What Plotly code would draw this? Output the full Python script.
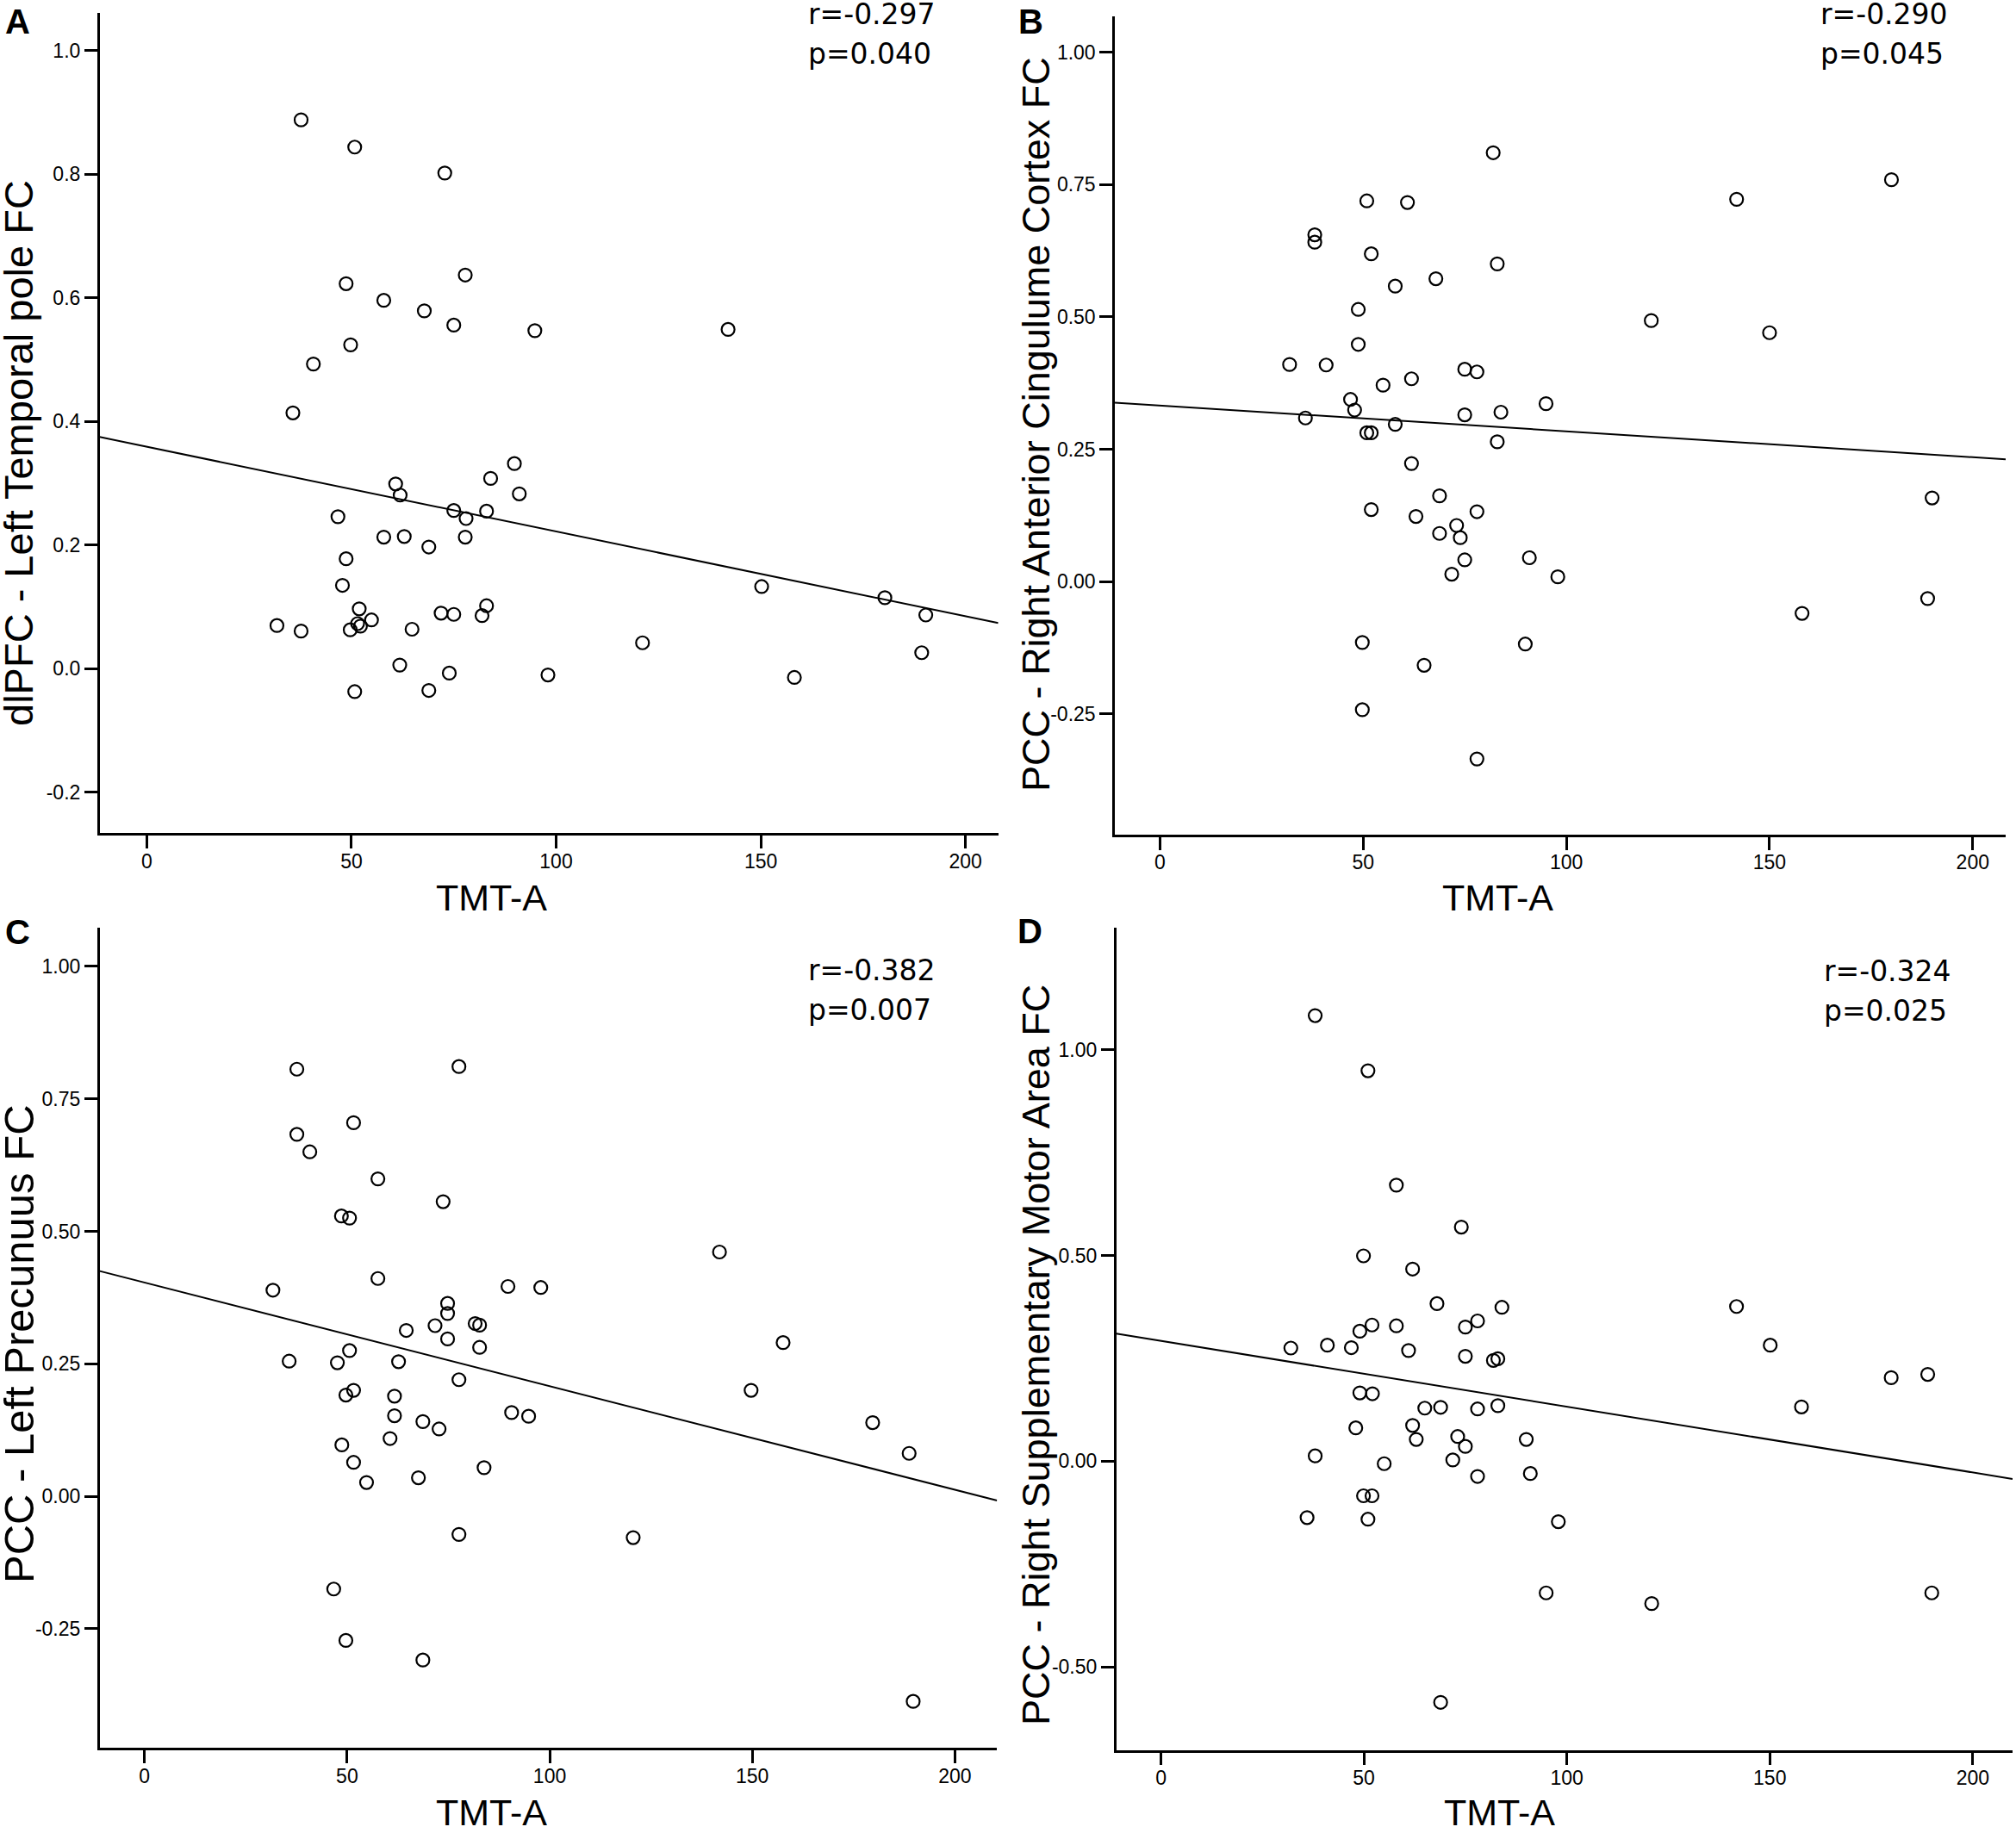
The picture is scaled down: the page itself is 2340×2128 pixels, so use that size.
import plotly.graph_objects as go

W, H = 2340, 2128

# ---- panel A : dlPFC - Left Temporal pole FC
tmt_a = [37.7, 50.8, 72.8, 77.8, 48.7, 57.9, 67.8, 75.0, 94.8, 142.0, 49.8, 40.7, 35.7,
         89.8, 84.0, 60.8, 61.9, 91.0, 46.7, 75.0, 78.0, 83.0, 57.9, 62.9, 77.8, 68.9,
         48.7, 47.8, 150.2, 180.3, 190.3, 51.9, 83.0, 71.9, 75.0, 81.9, 31.8, 37.7, 49.7,
         51.5, 52.2, 54.9, 64.8, 121.1, 189.3, 61.8, 73.9, 98.0, 158.2, 50.8, 68.9]
fc_a = [0.888, 0.844, 0.802, 0.637, 0.623, 0.596, 0.579, 0.556, 0.547, 0.549, 0.524, 0.493, 0.414,
        0.332, 0.308, 0.299, 0.281, 0.283, 0.246, 0.256, 0.243, 0.255, 0.213, 0.214, 0.213, 0.197,
        0.178, 0.135, 0.133, 0.115, 0.087, 0.097, 0.102, 0.090, 0.088, 0.086, 0.070, 0.061, 0.063,
        0.073, 0.069, 0.079, 0.064, 0.042, 0.026, 0.006, -0.007, -0.010, -0.014, -0.037, -0.035]
fit_a_x = [-11.5, 208.0]
fit_a_y = [0.375, 0.074]

# ---- panel B : PCC - Right Anterior Cingulume Cortex FC
tmt_b = [82.0, 180.0, 141.9, 50.9, 60.9, 38.1, 38.1, 52.0, 83.0, 67.9, 57.9, 48.8, 120.9,
         150.0, 48.8, 31.9, 40.9, 75.0, 78.0, 61.9, 54.9, 46.9, 95.0, 47.9, 83.9, 75.0,
         35.8, 57.9, 50.9, 52.0, 83.0, 61.9, 190.0, 68.8, 52.0, 78.0, 63.0, 73.0, 68.8,
         73.9, 90.9, 75.0, 71.8, 97.9, 188.9, 158.0, 49.8, 89.9, 65.0, 49.8, 78.0]
fc_b = [0.810, 0.759, 0.722, 0.719, 0.716, 0.655, 0.641, 0.619, 0.600, 0.572, 0.558, 0.514, 0.493,
        0.470, 0.448, 0.410, 0.409, 0.401, 0.396, 0.383, 0.371, 0.344, 0.336, 0.324, 0.320, 0.315,
        0.309, 0.297, 0.281, 0.281, 0.264, 0.223, 0.158, 0.162, 0.136, 0.132, 0.123, 0.106, 0.091,
        0.083, 0.045, 0.041, 0.014, 0.009, -0.032, -0.060, -0.115, -0.118, -0.158, -0.242, -0.335]
fit_b_x = [-11.1, 208.1]
fit_b_y = [0.338, 0.231]

# ---- panel C : PCC - Left Precunuus FC
tmt_c = [77.6, 37.6, 51.6, 37.6, 40.8, 57.6, 73.7, 48.6, 50.6, 141.9, 57.6, 31.7, 89.7,
         97.8, 74.8, 74.8, 71.7, 81.6, 82.7, 64.6, 74.8, 157.6, 82.7, 50.6, 35.7, 47.6,
         62.7, 77.6, 51.6, 49.7, 149.7, 61.7, 61.7, 68.7, 90.6, 94.8, 179.7, 72.7, 60.6,
         48.7, 188.7, 51.6, 83.8, 67.6, 54.8, 77.6, 120.6, 46.7, 49.7, 68.7, 189.7]
fc_c = [0.811, 0.806, 0.705, 0.683, 0.650, 0.599, 0.556, 0.529, 0.525, 0.461, 0.411, 0.389, 0.396,
        0.394, 0.364, 0.345, 0.322, 0.326, 0.323, 0.313, 0.297, 0.290, 0.281, 0.275, 0.255, 0.252,
        0.254, 0.220, 0.200, 0.191, 0.200, 0.189, 0.152, 0.141, 0.158, 0.151, 0.139, 0.127, 0.109,
        0.097, 0.081, 0.064, 0.054, 0.035, 0.026, -0.072, -0.078, -0.175, -0.272, -0.309, -0.387]
fit_c_x = [-11.06, 210.4]
fit_c_y = [0.425, -0.008]

# ---- panel D : PCC - Right Supplementary Motor Area FC
tmt_d = [38.0, 51.0, 58.0, 74.0, 49.9, 62.0, 68.0, 84.0, 141.8, 78.0, 52.0, 58.0, 75.0,
         49.0, 32.0, 41.0, 46.9, 150.1, 61.0, 75.0, 81.9, 83.0, 179.9, 188.9, 49.0, 52.1,
         157.8, 65.0, 68.9, 78.0, 83.0, 48.0, 62.0, 62.9, 73.1, 75.0, 90.0, 38.0, 71.9,
         55.0, 78.0, 91.0, 49.9, 52.0, 36.0, 51.0, 97.9, 94.9, 120.9, 189.9, 68.9]
fc_d = [1.083, 0.949, 0.671, 0.569, 0.499, 0.467, 0.383, 0.374, 0.376, 0.341, 0.331, 0.329, 0.326,
        0.316, 0.275, 0.282, 0.276, 0.282, 0.269, 0.255, 0.245, 0.249, 0.203, 0.211, 0.166, 0.164,
        0.132, 0.129, 0.131, 0.127, 0.135, 0.081, 0.087, 0.053, 0.060, 0.036, 0.053, 0.013, 0.003,
        -0.006, -0.037, -0.030, -0.084, -0.084, -0.137, -0.141, -0.147, -0.320, -0.346, -0.320, -0.586]
fit_d_x = [-11.0, 209.8]
fit_d_y = [0.310, -0.043]

x_ticks = [0, 50, 100, 150, 200]
y_ticks_a = [-0.2, 0.0, 0.2, 0.4, 0.6, 0.8, 1.0]
y_ticks_bc = [-0.25, 0.0, 0.25, 0.5, 0.75, 1.0]
y_ticks_d = [-0.5, 0.0, 0.5, 1.0]

panels = [
    dict(letter='A', x=tmt_a, y=fc_a, fx=fit_a_x, fy=fit_a_y, xr=[-11.5, 208.0], yr=[-0.266, 1.061],
         yt=y_ticks_a, dec=1, box=(115.7, 1158.7, 15, 967.3),
         ytitle='dlPFC - Left Temporal pole FC', ytsize=47, ytpos=(22, 526), xtpos=(570, 1042),
         stats=('r=-0.297', 'p=0.040'), spos=(936, 17), lpos=(20, 25)),
    dict(letter='B', x=tmt_b, y=fc_b, fx=fit_b_x, fy=fit_b_y, xr=[-11.1, 208.1], yr=[-0.478, 1.067],
         yt=y_ticks_bc, dec=2, box=(1294, 2328, 19.3, 969),
         ytitle='PCC - Right Anterior Cingulume Cortex FC', ytsize=45, ytpos=(1202, 493), xtpos=(1738, 1042),
         stats=('r=-0.290', 'p=0.045'), spos=(2111, 17), lpos=(1196, 25)),
    dict(letter='C', x=tmt_c, y=fc_c, fx=fit_c_x, fy=fit_c_y, xr=[-11.06, 210.4], yr=[-0.475, 1.073],
         yt=y_ticks_bc, dec=2, box=(115.7, 1157.3, 1077, 2029.3),
         ytitle='PCC - Left Precunuus FC', ytsize=49, ytpos=(22, 1560), xtpos=(570, 2104),
         stats=('r=-0.382', 'p=0.007'), spos=(936, 1126), lpos=(20, 1082)),
    dict(letter='D', x=tmt_d, y=fc_d, fx=fit_d_x, fy=fit_d_y, xr=[-11.0, 209.8], yr=[-0.702, 1.296],
         yt=y_ticks_d, dec=2, box=(1295.7, 2336, 1077.3, 2031.7),
         ytitle='PCC - Right Supplementary Motor Area FC', ytsize=45, ytpos=(1202, 1573), xtpos=(1740, 2104),
         stats=('r=-0.324', 'p=0.025'), spos=(2115, 1127), lpos=(1195, 1081)),
]

AX_FONT = 'Liberation Sans, Arial, sans-serif'
fig = go.Figure()
annotations = []

for i, p in enumerate(panels):
    n = '' if i == 0 else str(i + 1)
    fig.add_trace(go.Scatter(
        x=p['fx'], y=p['fy'], mode='lines',
        line=dict(color='black', width=2),
        xaxis='x' + n, yaxis='y' + n, showlegend=False, hoverinfo='skip'))
    fig.add_trace(go.Scatter(
        x=p['x'], y=p['y'], mode='markers',
        marker=dict(symbol='circle', size=15, color='rgba(255,255,255,0)',
                    line=dict(color='black', width=2.2)),
        xaxis='x' + n, yaxis='y' + n, showlegend=False))

    x0, x1, y0, y1 = p['box']
    common = dict(showline=True, linecolor='black', linewidth=2.5, ticks='outside',
                  ticklen=15, tickwidth=2.5, tickcolor='black', showgrid=False,
                  zeroline=False, tickfont=dict(family=AX_FONT, size=23, color='black'))
    fig.layout['xaxis' + n] = dict(domain=[x0 / W, x1 / W], range=p['xr'],
                                   anchor='y' + n, tickvals=x_ticks,
                                   ticklabelstandoff=-5, **common)
    fig.layout['yaxis' + n] = dict(domain=[1 - y1 / H, 1 - y0 / H], range=p['yr'],
                                   anchor='x' + n, tickvals=p['yt'],
                                   ticktext=[f"{v:.{p['dec']}f}" for v in p['yt']], **common)

    annotations.append(dict(text=p['ytitle'], x=p['ytpos'][0] / W, y=1 - p['ytpos'][1] / H,
                            xref='paper', yref='paper', textangle=-90, showarrow=False,
                            xanchor='center', yanchor='middle',
                            font=dict(family=AX_FONT, size=p['ytsize'], color='black')))
    annotations.append(dict(text='TMT-A', x=p['xtpos'][0] / W, y=1 - p['xtpos'][1] / H,
                            xref='paper', yref='paper', showarrow=False,
                            xanchor='center', yanchor='middle',
                            font=dict(family=AX_FONT, size=43, color='black')))
    annotations.append(dict(text='<b>' + p['letter'] + '</b>', x=p['lpos'][0] / W, y=1 - p['lpos'][1] / H,
                            xref='paper', yref='paper', showarrow=False,
                            xanchor='center', yanchor='middle',
                            font=dict(family=AX_FONT, size=40, color='black')))
    for k, s in enumerate(p['stats']):
        annotations.append(dict(text=s, x=p['spos'][0] / W, y=1 - (p['spos'][1] + 46 * k) / H,
                                xref='paper', yref='paper', showarrow=False,
                                xanchor='left', yanchor='middle',
                                font=dict(family='DejaVu Sans, sans-serif', size=33, color='black')))

fig.update_layout(
    width=W, height=H,
    margin=dict(l=0, r=0, t=0, b=0),
    paper_bgcolor='white', plot_bgcolor='white',
    annotations=annotations,
)

fig.write_html("out.html", config={'displayModeBar': False},
               post_script="document.body.style.margin='0';")
